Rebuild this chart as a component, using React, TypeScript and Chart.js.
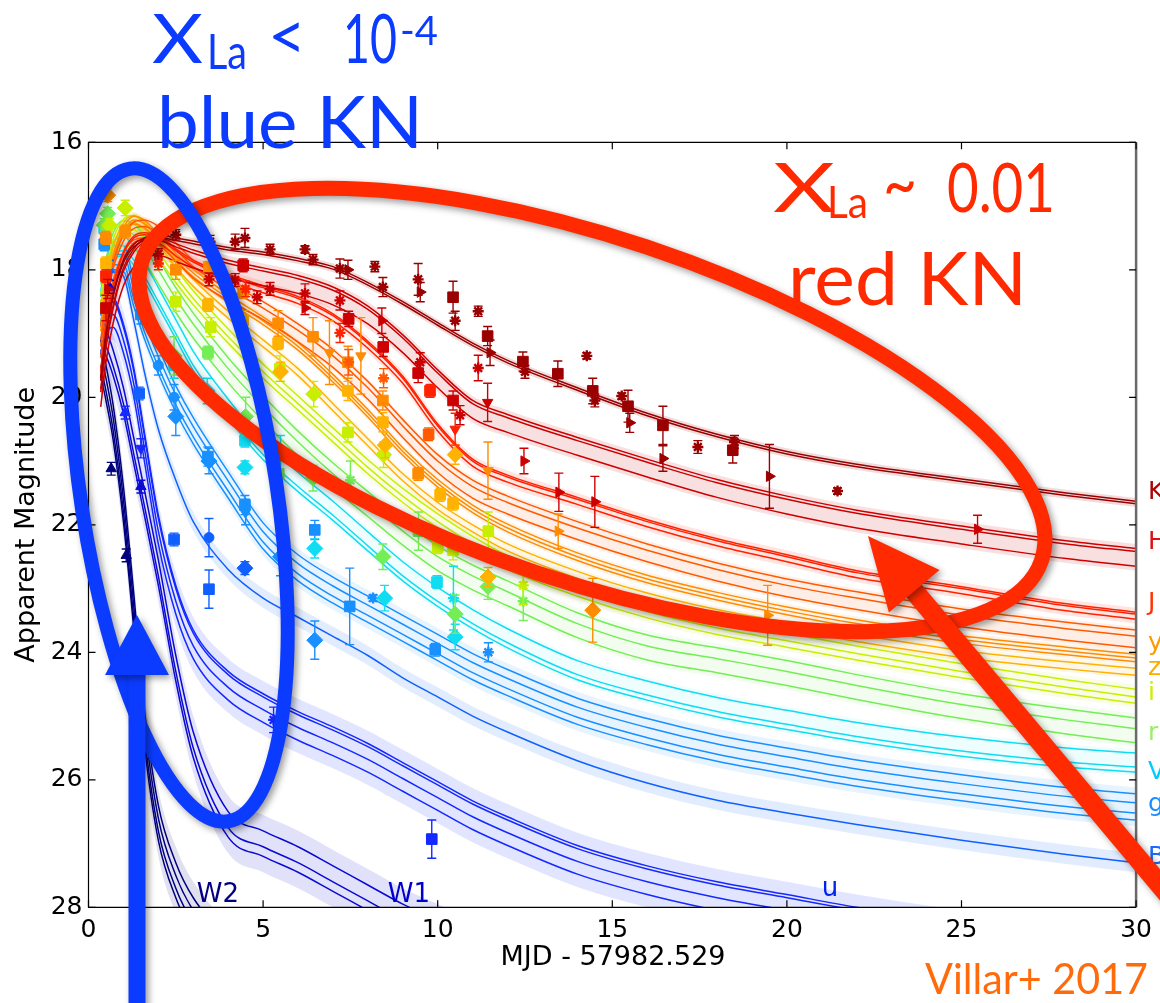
import React, { useEffect, useRef } from "react";
import { Chart, registerables } from "chart.js";
Chart.register(...registerables);

// ---------------- DATA ----------------
const TIMES = [0.35, 0.5, 0.7, 1.0, 1.3, 1.6, 2.0, 2.5, 3, 4, 5, 6, 7, 8, 9, 10, 11, 12, 14, 16, 18, 20, 22, 25, 28, 30];

const MODEL_K = [19.7, 19.0, 18.4, 17.85, 17.6, 17.5, 17.45, 17.5, 17.55, 17.65, 17.72, 17.82, 17.95, 18.2, 18.5, 18.83, 19.15, 19.42, 19.85, 20.25, 20.58, 20.85, 21.05, 21.28, 21.5, 21.63];
const MODEL_H = [19.9, 19.2, 18.6, 18.0, 17.7, 17.55, 17.52, 17.62, 17.72, 17.88, 18.0, 18.12, 18.3, 18.6, 19.05, 19.6, 20.08, 20.3, 20.66, 21.0, 21.32, 21.58, 21.8, 22.05, 22.28, 22.4];
const MODEL_J = [19.6, 18.9, 18.3, 17.75, 17.5, 17.45, 17.5, 17.7, 17.88, 18.1, 18.28, 18.45, 18.72, 19.15, 19.7, 20.45, 21.0, 21.25, 21.6, 21.95, 22.25, 22.5, 22.75, 23.0, 23.27, 23.4];
const MODEL_BIG_I = [19.2, 18.6, 18.0, 17.55, 17.35, 17.32, 17.42, 17.68, 17.95, 18.3, 18.6, 18.95, 19.35, 19.85, 20.45, 21.0, 21.4, 21.65, 22.05, 22.4, 22.7, 22.95, 23.15, 23.42, 23.63, 23.75];
const MODEL_Y = [18.9, 18.4, 17.85, 17.4, 17.22, 17.28, 17.5, 17.8, 18.05, 18.45, 18.8, 19.2, 19.7, 20.25, 20.85, 21.35, 21.75, 22.05, 22.5, 22.85, 23.12, 23.35, 23.55, 23.8, 23.98, 24.09];
const MODEL_Z = [18.6, 18.2, 17.7, 17.32, 17.2, 17.3, 17.55, 17.9, 18.2, 18.7, 19.15, 19.6, 20.15, 20.7, 21.25, 21.7, 22.05, 22.35, 22.78, 23.12, 23.38, 23.58, 23.77, 24.02, 24.2, 24.3];
const MODEL_SMALL_I = [18.5, 18.1, 17.65, 17.33, 17.27, 17.42, 17.72, 18.1, 18.45, 19.05, 19.6, 20.1, 20.6, 21.1, 21.55, 21.95, 22.3, 22.6, 23.02, 23.36, 23.62, 23.82, 24.02, 24.3, 24.55, 24.7];
const MODEL_R = [18.4, 18.0, 17.6, 17.4, 17.45, 17.65, 18.0, 18.45, 18.85, 19.55, 20.15, 20.7, 21.2, 21.65, 22.1, 22.5, 22.8, 23.05, 23.55, 23.9, 24.1, 24.3, 24.52, 24.82, 25.06, 25.2];
const MODEL_V = [18.5, 18.1, 17.75, 17.65, 17.8, 18.05, 18.45, 18.95, 19.45, 20.2, 20.85, 21.35, 21.8, 22.28, 22.75, 23.15, 23.5, 23.8, 24.3, 24.62, 24.88, 25.08, 25.27, 25.5, 25.67, 25.75];
const MODEL_G = [18.6, 18.1, 17.8, 17.8, 18.35, 18.85, 19.4, 20.0, 20.5, 21.35, 22.15, 22.65, 23.0, 23.3, 23.6, 23.9, 24.2, 24.45, 24.9, 25.22, 25.48, 25.68, 25.87, 26.1, 26.3, 26.4];
const MODEL_B = [18.7, 18.3, 18.0, 18.1, 18.8, 19.6, 20.5, 21.3, 21.95, 22.7, 23.15, 23.45, 23.75, 24.05, 24.4, 24.7, 25.0, 25.25, 25.7, 26.05, 26.32, 26.52, 26.7, 26.95, 27.17, 27.3];
const MODEL_U = [18.9, 18.6, 18.5, 18.9, 19.6, 20.6, 21.9, 23.0, 23.7, 24.35, 24.7, 24.98, 25.22, 25.48, 25.78, 26.08, 26.38, 26.63, 27.08, 27.4, 27.65, 27.85, 28.05, 28.3, 28.5, 28.62];
const MODEL_W1 = [19.1, 19.2, 19.5, 20.1, 20.9, 21.7, 22.8, 24.3, 25.5, 26.75, 27.05, 27.3, 27.6, 27.9, 28.2, 28.45, 28.7, 28.95, null, null, null, null, null, null, null, null];
const MODEL_W2 = [19.3, 19.7, 20.3, 21.6, 23.3, 25.1, 26.6, 27.5, 28.05, 28.7, 29.2, null, null, null, null, null, null, null, null, null, null, null, null, null, null, null];

// model-sample offsets (mag) read at the right edge, and model uncertainty half-width
const OFFSETS_K = [0, 0.04];
const OFFSETS_H = [-0.03, 0.02, 0.25];
const OFFSETS_J = [-0.03, 0.0, 0.08];
const OFFSETS_BIG_I = [-0.1, 0.0, 0.18];
const OFFSETS_Y = [-0.06, 0.0, 0.06];
const OFFSETS_Z = [-0.05, 0.06];
const OFFSETS_SMALL_I = [-0.12, 0.0, 0.1];
const OFFSETS_R = [-0.17, 0.0, 0.22];
const OFFSETS_V = [-0.17, 0.05, 0.13];
const OFFSETS_G = [-0.18, -0.04, 0.12, 0.23];
const OFFSETS_B = [0];
const OFFSETS_U = [-0.05, 0.0, 0.2, 0.4];
const OFFSETS_W1 = [-0.25, 0.0, 0.15];
const OFFSETS_W2 = [-0.2, 0.0, 0.2, 0.35];
const SHADE = [0.05, 0.07, 0.07, 0.05, 0.05, 0.05, 0.07, 0.07, 0.06, 0.1, 0.15, 0.2, 0.25, 0.25];

// observed points: [MJD offset, mag, error, marker]
const POINTS_K = [
  [2.5, 17.45, 0.08, "*"], [3.48, 17.56, 0.1, "*"], [4.2, 17.56, 0.12, "*"], [4.48, 17.5, 0.15, "*"], [5.2, 17.68, 0.08, "*"],
  [6.2, 17.68, 0.06, "*"], [6.43, 17.84, 0.08, "*"], [7.2, 17.98, 0.15, "*"], [7.43, 18.0, 0.15, ">"], [8.43, 18.27, 0.15, "*"],
  [8.2, 17.95, 0.08, "*"], [9.44, 18.15, 0.25, "*"], [9.5, 18.35, 0.15, ">"], [10.44, 18.43, 0.25, "s"], [10.5, 18.8, 0.15, "*"],
  [11.16, 18.65, 0.08, "*"], [11.43, 19.04, 0.15, "s"], [11.5, 19.3, 0.2, ">"], [12.44, 19.44, 0.15, "s"], [12.5, 19.6, 0.1, "*"],
  [13.44, 19.63, 0.2, "s"], [14.27, 19.35, 0.05, "*"], [14.44, 19.9, 0.2, "s"], [14.5, 20.05, 0.1, "*"], [15.27, 19.98, 0.05, "*"],
  [15.45, 20.14, 0.25, "s"], [15.5, 20.4, 0.15, ">"], [16.45, 20.44, 0.3, "s"], [16.45, 20.96, 0.2, ">"], [17.45, 20.78, 0.1, "*"],
  [18.45, 20.83, 0.2, "s"], [18.5, 20.7, 0.1, "*"], [19.5, 21.24, 0.5, ">"], [21.45, 21.47, 0.05, "*"],
];
const POINTS_H = [
  [0.5, 18.6, 0.2, "s"], [0.55, 18.3, 0.15, ">"], [2.0, 17.75, 0.08, "*"], [3.45, 18.15, 0.1, "*"], [4.2, 18.16, 0.1, "*"],
  [4.43, 17.93, 0.1, "s"], [4.83, 18.43, 0.1, "*"], [5.2, 18.3, 0.1, "*"], [6.2, 18.37, 0.15, "*"], [6.2, 18.6, 0.1, ">"],
  [7.2, 18.48, 0.15, "*"], [7.45, 18.77, 0.12, "s"], [8.44, 19.21, 0.15, "s"], [8.4, 18.8, 0.2, ">"], [9.44, 19.62, 0.15, "s"],
  [9.5, 19.45, 0.15, "*"], [10.44, 20.05, 0.15, "s"], [10.64, 20.28, 0.15, "*"], [11.16, 19.54, 0.2, "*"], [11.43, 20.08, 0.3, "v"],
  [12.47, 21.0, 0.2, ">"], [13.47, 21.49, 0.3, ">"], [14.5, 21.64, 0.4, ">"], [25.46, 22.07, 0.22, ">"],
];
const POINTS_J = [[0.5, 18.1, 0.1, "s"], [2.0, 17.9, 0.1, "*"], [4.5, 18.3, 0.12, "*"], [7.2, 18.99, 0.15, "*"], [9.78, 19.9, 0.1, "s"], [10.5, 20.5, 0.25, "v"]];
const POINTS_BIG_I = [[9.74, 20.58, 0.1, "s"], [8.45, 19.7, 0.15, "*"], [7.45, 19.45, 0.2, "*"]];
const POINTS_Y = [
  [0.5, 17.5, 0.1, "s"], [0.55, 16.83, 0.1, "d"], [1.05, 17.4, 0.1, "s"], [2.5, 18.0, 0.15, "s"], [3.45, 17.95, 0.2, "s"],
  [4.43, 18.35, 0.1, "s"], [5.43, 18.84, 0.2, "s"], [6.43, 19.05, 0.3, "s"], [6.9, 19.3, 0.5, "v"], [7.43, 19.45, 0.25, "s"],
  [7.8, 19.35, 0.6, "v"], [8.43, 20.05, 0.15, "s"], [9.44, 21.2, 0.1, "s"], [11.44, 21.15, 0.45, "v"], [13.45, 22.1, 0.27, ">"],
  [14.44, 23.34, 0.5, "d"], [19.45, 23.42, 0.47, ">"],
];
const POINTS_Z = [
  [0.5, 17.9, 0.1, "s"], [3.42, 18.55, 0.1, "s"], [4.43, 18.79, 0.15, "s"], [5.43, 19.15, 0.1, "s"], [5.5, 19.6, 0.15, "d"],
  [7.43, 19.9, 0.15, "s"], [8.43, 20.39, 0.15, "s"], [8.5, 20.75, 0.2, "d"], [10.07, 21.53, 0.1, "s"], [10.44, 21.67, 0.1, "s"],
  [10.5, 20.9, 0.15, "d"], [11.44, 22.82, 0.15, "d"],
];
const POINTS_SMALL_I = [
  [0.6, 17.3, 0.1, "d"], [1.05, 17.03, 0.12, "d"], [2.5, 18.5, 0.15, "s"], [3.5, 18.9, 0.15, "s"], [5.48, 19.55, 0.2, "s"],
  [6.45, 19.95, 0.2, "d"], [7.43, 20.55, 0.15, "s"], [8.45, 20.9, 0.2, "d"], [10.0, 22.35, 0.1, "s"], [10.44, 22.4, 0.15, "s"],
  [11.45, 22.1, 0.3, "s"], [12.45, 22.95, 0.3, "*"],
];
const POINTS_R = [
  [0.55, 17.12, 0.1, "d"], [0.45, 17.3, 0.1, "d"], [2.45, 19.35, 0.3, "d"], [3.42, 19.3, 0.1, "s"], [4.5, 20.3, 0.3, "d"],
  [5.45, 21.2, 0.3, "s"], [6.43, 21.27, 0.2, "d"], [7.5, 21.3, 0.3, "*"], [8.43, 22.5, 0.2, "d"], [9.45, 22.1, 0.3, "s"],
  [10.5, 23.4, 0.3, "d"], [11.44, 22.97, 0.2, "d"], [12.45, 23.2, 0.3, "*"],
];
const POINTS_V = [
  [0.45, 17.35, 0.1, "s"], [2.45, 19.5, 0.2, "s"], [3.4, 19.9, 0.2, "d"], [4.48, 20.68, 0.1, "s"], [4.48, 21.1, 0.1, "d"],
  [5.5, 20.9, 0.3, "*"], [6.48, 22.37, 0.15, "d"], [8.48, 23.15, 0.2, "d"], [9.98, 22.9, 0.1, "s"], [10.45, 23.15, 0.5, "*"],
  [10.5, 23.76, 0.2, "d"],
];
const POINTS_G = [
  [0.45, 17.6, 0.1, "s"], [1.5, 18.7, 0.15, "s"], [2.0, 19.5, 0.15, "o"], [2.45, 20.0, 0.2, "o"], [2.5, 20.3, 0.3, "d"],
  [3.42, 20.93, 0.15, "s"], [3.45, 21.0, 0.2, "d"], [4.48, 21.69, 0.15, "s"], [4.5, 21.8, 0.2, "v"], [5.5, 22.5, 0.3, "d"],
  [6.48, 22.08, 0.15, "s"], [6.48, 23.81, 0.3, "d"], [7.48, 23.28, 0.6, "s"], [8.15, 23.15, 0.05, "*"], [9.93, 23.96, 0.1, "s"],
  [11.45, 24.0, 0.15, "*"],
];
const POINTS_B = [[0.6, 18.0, 0.15, "^"], [1.45, 19.94, 0.1, "s"], [2.45, 22.23, 0.1, "s"], [3.45, 23.01, 0.3, "s"], [3.45, 22.2, 0.3, "o"], [4.48, 22.68, 0.1, "d"]];
const POINTS_U = [[1.05, 20.24, 0.1, "^"], [1.5, 20.8, 0.15, "v"], [5.3, 25.06, 0.2, "*"], [9.83, 26.93, 0.3, "s"]];
const POINTS_W1 = [[0.6, 18.27, 0.1, "^"], [1.5, 21.4, 0.1, "^"]];
const POINTS_W2 = [[0.65, 21.12, 0.1, "^"], [1.08, 22.48, 0.1, "^"]];

const BAND_NAMES = ["K", "H", "J", "I", "y", "z", "i", "r", "V", "g", "B", "u", "W1", "W2"];
const BAND_MODELS = [MODEL_K, MODEL_H, MODEL_J, MODEL_BIG_I, MODEL_Y, MODEL_Z, MODEL_SMALL_I, MODEL_R, MODEL_V, MODEL_G, MODEL_B, MODEL_U, MODEL_W1, MODEL_W2];
const BAND_OFFSETS = [OFFSETS_K, OFFSETS_H, OFFSETS_J, OFFSETS_BIG_I, OFFSETS_Y, OFFSETS_Z, OFFSETS_SMALL_I, OFFSETS_R, OFFSETS_V, OFFSETS_G, OFFSETS_B, OFFSETS_U, OFFSETS_W1, OFFSETS_W2];
const BAND_POINTS: any[][] = [POINTS_K, POINTS_H, POINTS_J, POINTS_BIG_I, POINTS_Y, POINTS_Z, POINTS_SMALL_I, POINTS_R, POINTS_V, POINTS_G, POINTS_B, POINTS_U, POINTS_W1, POINTS_W2];

const X_TICKS = [0, 5, 10, 15, 20, 25, 30];
const Y_TICKS = [16, 18, 20, 22, 24, 26, 28];

const RIGHT_LABELS = ["K", "H", "J", "y", "z", "i", "r", "V", "g", "B"];
const RIGHT_LABEL_MAGS = [21.49, 22.27, 23.23, 23.86, 24.26, 24.64, 25.27, 25.88, 26.38, 27.22];
const INLINE_LABELS = ["W2", "W1", "u"];
const INLINE_LABEL_X = [3.1, 8.57, 21.0];
const INLINE_LABEL_MAG = [27.92, 27.92, 27.82];

// ---------------- STYLES ----------------
const BAND_COLORS = ["#9b0000", "#cc0000", "#ff2200", "#ff5a00", "#ff8c00", "#ffb300", "#c8ee00", "#74ee55", "#10dcf2", "#1890ff", "#1060ff", "#1428ff", "#0a0ad2", "#00007f"];
const SHADE_ALPHA = [0.14, 0.12, 0.12, 0.1, 0.1, 0.1, 0.1, 0.09, 0.07, 0.1, 0.12, 0.12, 0.12, 0.12];
const RIGHT_LABEL_COLORS = ["#b00000", "#dd1010", "#ff3300", "#ff9900", "#ffaa00", "#ccee00", "#99ee66", "#00ccff", "#1a8cff", "#1a6cff"];
const INLINE_LABEL_COLORS = ["#000080", "#0000cc", "#0022ee"];
const ANNO_BLUE = "#0b3bff";
const ANNO_RED = "#ff2a00";
const ANNO_FONT = "Lato, 'Open Sans', sans-serif";
const AXIS_FONT = "'DejaVu Sans', sans-serif";

function rgba(hex: string, a: number) {
  const n = parseInt(hex.slice(1), 16);
  return `rgba(${(n >> 16) & 255},${(n >> 8) & 255},${n & 255},${a})`;
}

const MARKER: Record<string, [string, number, number]> = {
  s: ["rect", 0, 7.5],
  d: ["rectRot", 0, 8],
  "^": ["triangle", 0, 6],
  v: ["triangle", 180, 6],
  ">": ["triangle", 90, 6],
  "*": ["star", 0, 5.5],
  o: ["circle", 0, 5],
};

function buildDatasets() {
  const ds: any[] = [];
  BAND_NAMES.forEach((name, b) => {
    const mid = BAND_MODELS[b];
    const offs = BAND_OFFSETS[b];
    const color = BAND_COLORS[b];
    const lo = Math.min(...offs) - SHADE[b];
    const hi = Math.max(...offs) + SHADE[b];
    const series = (off: number) => TIMES.map((t, i) => ({ x: t, y: mid[i] == null ? null : (mid[i] as number) + off }));
    ds.push({ type: "line", label: name + "-lo", data: series(lo), borderWidth: 0, pointRadius: 0, fill: false, cubicInterpolationMode: "monotone", order: 5 });
    ds.push({ type: "line", label: name + "-hi", data: series(hi), borderWidth: 0, pointRadius: 0, fill: "-1", backgroundColor: rgba(color, SHADE_ALPHA[b]), cubicInterpolationMode: "monotone", order: 5 });
    offs.forEach((o) => {
      ds.push({ type: "line", label: name, data: series(o), borderColor: color, borderWidth: 1.5, pointRadius: 0, fill: false, cubicInterpolationMode: "monotone", order: 3 });
    });
  });
  BAND_NAMES.forEach((name, b) => {
    const pts = BAND_POINTS[b];
    const color = BAND_COLORS[b];
    ds.push({
      type: "scatter",
      label: name + " obs",
      data: pts.map((p) => ({ x: p[0], y: p[1] })),
      errors: pts.map((p) => p[2]),
      errColor: color,
      pointStyle: pts.map((p) => MARKER[p[3]][0]),
      pointRotation: pts.map((p) => MARKER[p[3]][1]),
      pointRadius: pts.map((p) => MARKER[p[3]][2]),
      pointBorderWidth: pts.map((p) => (p[3] === "*" ? 2.4 : 1)),
      pointBackgroundColor: color,
      pointBorderColor: color,
      showLine: false,
      order: 1,
    });
  });
  return ds;
}

const errorBarPlugin = {
  id: "errbars",
  beforeDatasetDraw(chart: any, args: any) {
    const ds = chart.data.datasets[args.index];
    if (!ds.errors) return;
    const { ctx, chartArea: a, scales } = chart;
    ctx.save();
    ctx.beginPath();
    ctx.rect(a.left, a.top, a.right - a.left, a.bottom - a.top);
    ctx.clip();
    ctx.strokeStyle = ds.errColor;
    ctx.lineWidth = 1.4;
    args.meta.data.forEach((el: any, i: number) => {
      const p = ds.data[i];
      const e = ds.errors[i];
      const y1 = scales.y.getPixelForValue(p.y - e);
      const y2 = scales.y.getPixelForValue(p.y + e);
      const x = el.x;
      ctx.beginPath();
      ctx.moveTo(x, y1); ctx.lineTo(x, y2);
      ctx.moveTo(x - 4.5, y1); ctx.lineTo(x + 4.5, y1);
      ctx.moveTo(x - 4.5, y2); ctx.lineTo(x + 4.5, y2);
      ctx.stroke();
    });
    ctx.restore();
  },
};

function fitText(ctx: CanvasRenderingContext2D, text: string, x: number, baseline: number, width: number, font: string) {
  ctx.font = font;
  const w = ctx.measureText(text).width;
  ctx.save();
  ctx.translate(x, baseline);
  ctx.scale(width / w, 1);
  ctx.textAlign = "left";
  ctx.textBaseline = "alphabetic";
  ctx.fillText(text, 0, 0);
  ctx.restore();
}

function setShadow(ctx: CanvasRenderingContext2D) {
  ctx.shadowColor = "rgba(0,0,0,0.4)";
  ctx.shadowBlur = 7;
  ctx.shadowOffsetX = 3;
  ctx.shadowOffsetY = 3;
}

const decorPlugin = {
  id: "decor",
  afterDraw(chart: any) {
    const { ctx, chartArea: a, scales } = chart;
    const xs = scales.x, ys = scales.y;
    ctx.save();
    // frame + inward ticks
    ctx.strokeStyle = "#000";
    ctx.lineWidth = 1.2;
    ctx.beginPath();
    ctx.moveTo(a.right, a.top); ctx.lineTo(a.left, a.top); ctx.lineTo(a.left, a.bottom); ctx.lineTo(a.right, a.bottom);
    ctx.stroke();
    ctx.strokeStyle = "#6a6a6a";
    ctx.lineWidth = 2.5;
    ctx.beginPath();
    ctx.moveTo(a.right, a.top); ctx.lineTo(a.right, a.bottom);
    ctx.stroke();
    ctx.strokeStyle = "#000";
    ctx.lineWidth = 1.2;
    ctx.beginPath();
    X_TICKS.forEach((t) => {
      const x = xs.getPixelForValue(t);
      ctx.moveTo(x, a.bottom); ctx.lineTo(x, a.bottom - 7);
      ctx.moveTo(x, a.top); ctx.lineTo(x, a.top + 7);
    });
    Y_TICKS.forEach((m) => {
      const y = ys.getPixelForValue(m);
      ctx.moveTo(a.left, y); ctx.lineTo(a.left + 7, y);
      ctx.moveTo(a.right, y); ctx.lineTo(a.right - 7, y);
    });
    ctx.stroke();

    // axis titles
    ctx.fillStyle = "#000";
    ctx.font = `27px ${AXIS_FONT}`;
    ctx.textAlign = "center";
    ctx.textBaseline = "middle";
    ctx.fillText("MJD - 57982.529", 613, 958);
    ctx.save();
    ctx.translate(27, (a.top + a.bottom) / 2);
    ctx.rotate(-Math.PI / 2);
    ctx.fillText("Apparent Magnitude", 0, 0);
    ctx.restore();

    // band labels
    ctx.font = `25px ${AXIS_FONT}`;
    ctx.textAlign = "left";
    ctx.textBaseline = "middle";
    RIGHT_LABELS.forEach((l, i) => {
      ctx.fillStyle = RIGHT_LABEL_COLORS[i];
      ctx.fillText(l, 1148, ys.getPixelForValue(RIGHT_LABEL_MAGS[i]));
    });
    ctx.font = `26px ${AXIS_FONT}`;
    ctx.textBaseline = "alphabetic";
    INLINE_LABELS.forEach((l, i) => {
      ctx.fillStyle = INLINE_LABEL_COLORS[i];
      ctx.fillText(l, xs.getPixelForValue(INLINE_LABEL_X[i]), ys.getPixelForValue(INLINE_LABEL_MAG[i]));
    });

    // annotations: ellipses and arrows with drop shadow
    ctx.save();
    setShadow(ctx);
    ctx.lineWidth = 15;
    ctx.strokeStyle = ANNO_RED;
    ctx.beginPath();
    ctx.ellipse(592, 410, 474, 172, 0.322, 0, Math.PI * 2);
    ctx.stroke();
    ctx.strokeStyle = ANNO_BLUE;
    ctx.lineWidth = 14;
    ctx.beginPath();
    ctx.ellipse(179, 495, 98, 330, -0.15, 0, Math.PI * 2);
    ctx.stroke();

    // red arrow
    const tip = [868, 536];
    const dir = [0.642, 0.767];
    const perp = [-dir[1], dir[0]];
    const headLen = 72, headHalf = 33, shaftHalf = 10;
    const base = [tip[0] + dir[0] * headLen, tip[1] + dir[1] * headLen];
    const tail = [tip[0] + dir[0] * 700, tip[1] + dir[1] * 700];
    ctx.fillStyle = ANNO_RED;
    ctx.beginPath();
    ctx.moveTo(base[0] - dir[0] * 4 + perp[0] * shaftHalf, base[1] - dir[1] * 4 + perp[1] * shaftHalf);
    ctx.lineTo(tail[0] + perp[0] * shaftHalf, tail[1] + perp[1] * shaftHalf);
    ctx.lineTo(tail[0] - perp[0] * shaftHalf, tail[1] - perp[1] * shaftHalf);
    ctx.lineTo(base[0] - dir[0] * 4 - perp[0] * shaftHalf, base[1] - dir[1] * 4 - perp[1] * shaftHalf);
    ctx.closePath();
    ctx.fill();
    ctx.beginPath();
    ctx.moveTo(tip[0], tip[1]);
    ctx.lineTo(base[0] + perp[0] * headHalf, base[1] + perp[1] * headHalf);
    ctx.lineTo(base[0] - perp[0] * headHalf, base[1] - perp[1] * headHalf);
    ctx.closePath();
    ctx.fill();

    // blue arrow
    ctx.fillStyle = ANNO_BLUE;
    ctx.beginPath();
    ctx.rect(137 - 8.5, 668, 17, 360);
    ctx.fill();
    ctx.beginPath();
    ctx.moveTo(137, 615);
    ctx.lineTo(137 + 32, 675);
    ctx.lineTo(137 - 32, 675);
    ctx.closePath();
    ctx.fill();
    ctx.restore();

    // annotation text
    ctx.fillStyle = ANNO_BLUE;
    fitText(ctx, "X", 152, 63, 51, `68px ${ANNO_FONT}`);
    fitText(ctx, "La", 207, 69, 40, `48px ${ANNO_FONT}`);
    fitText(ctx, "<", 268, 60, 38, `68px ${ANNO_FONT}`);
    fitText(ctx, "10", 343, 63, 54, `68px ${ANNO_FONT}`);
    fitText(ctx, "-4", 400, 45, 38, `40px ${ANNO_FONT}`);
    fitText(ctx, "blue KN", 157, 148, 266, `72px ${ANNO_FONT}`);

    ctx.fillStyle = ANNO_RED;
    fitText(ctx, "X", 773, 212, 62, `68px ${ANNO_FONT}`);
    fitText(ctx, "La", 827, 218, 41, `44px ${ANNO_FONT}`);
    fitText(ctx, "~", 883, 208, 34, `68px ${ANNO_FONT}`);
    fitText(ctx, "0.01", 947, 212, 108, `68px ${ANNO_FONT}`);
    fitText(ctx, "red KN", 788, 305, 239, `74px ${ANNO_FONT}`);

    ctx.fillStyle = "#ff6a0a";
    fitText(ctx, "Villar+ 2017", 925, 994, 223, `42px ${ANNO_FONT}`);
    ctx.restore();
  },
};

export default function App() {
  const ref = useRef<HTMLCanvasElement>(null);
  useEffect(() => {
    document.body.style.margin = "0";
    const chart = new Chart(ref.current as HTMLCanvasElement, {
      type: "line",
      data: { datasets: buildDatasets() },
      options: {
        animation: false,
        responsive: false,
        events: [],
        layout: { padding: { left: 0, right: 23.3, top: 142.3, bottom: 0 } },
        plugins: { legend: { display: false }, tooltip: { enabled: false } },
        scales: {
          x: {
            type: "linear",
            min: 0,
            max: 30,
            grid: { display: false, drawTicks: false },
            border: { display: false },
            ticks: { stepSize: 5, font: { family: AXIS_FONT, size: 25 }, color: "#000", padding: 8, maxRotation: 0 },
            afterFit: (s: any) => { s.height = 95.7; },
          },
          y: {
            type: "linear",
            min: 16,
            max: 28,
            reverse: true,
            grid: { display: false, drawTicks: false },
            border: { display: false },
            ticks: { stepSize: 2, font: { family: AXIS_FONT, size: 25 }, color: "#000", padding: 6 },
            afterFit: (s: any) => { s.width = 88.5; },
          },
        },
      } as any,
      plugins: [errorBarPlugin, decorPlugin],
    });
    return () => chart.destroy();
  }, []);
  return <canvas ref={ref} width={1160} height={1003} style={{ display: "block", width: 1160, height: 1003 }} />;
}
